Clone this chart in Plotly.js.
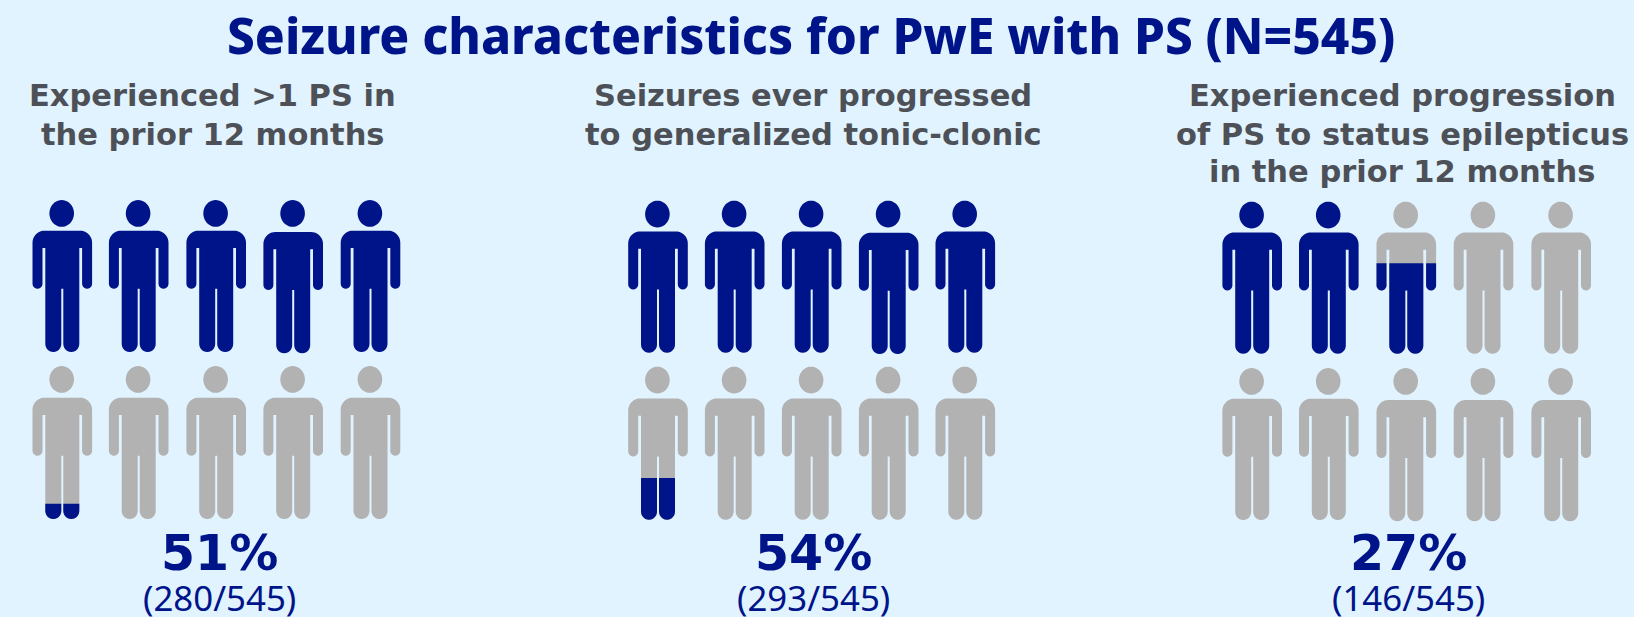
<!DOCTYPE html>
<html>
<head>
<meta charset="utf-8">
<script src="https://cdn.plot.ly/plotly-3.0.1.min.js"></script>
<style>html,body{margin:0;padding:0;background:#e0f3ff;overflow:hidden}</style>
</head>
<body>
<div id="chart" style="width:1634px;height:617px"></div>
<script>
// ---- data ----
const chartTitle = "Seizure characteristics for PwE with PS (N=545)";
const panelTitles = [
  ["Experienced >1 PS in", "the prior 12 months"],
  ["Seizures ever progressed", "to generalized tonic-clonic"],
  ["Experienced progression", "of PS to status epilepticus", "in the prior 12 months"]
];
const percentages = [51, 54, 27];
const counts = [280, 293, 146];
const totalN = 545;
// how many of the ten figures are coloured, as drawn (fraction = height of last figure)
const figuresFilled = [5.10, 5.275, 2.595];

// ---- layout and style ----
const BG = "#e0f3ff", BLUE = "#00148a", GRAY = "#b1b2b1", TITLE_GRAY = "#4d5157";
const NOTO = { family: "Noto Sans", asc: 1.069 }, DEJAVU = { family: "DejaVu Sans", asc: 0.928 };
const columnX = [
  [62.3, 138.7, 216.2, 293.2, 370.5],
  [658, 734.7, 811.7, 888.7, 965.3],
  [1252.2, 1328.8, 1406.3, 1483.5, 1561.2]
];
const rowHeadTop = [[200, 366], [200.7, 366.7], [201.7, 368]];
const bodyNudge = [
  [[0,0,0,1.3,0],[1,1,1,1,1]],
  [[0,0,0,1.3,0],[1,1,1,1,1]],
  [[0,0,0,0,0],[0,0,1.3,1.3,1.3]]
];
const titleCenter = [212.7, 813, 1402];
const titleBaselines = [[106.7, 145], [106.7, 145], [106.7, 145, 182.5]];
const statCenter = [219.5, 813.6, 1408];

// ---- figure outline, local units = px from body centre and head top ----
function arc(cx, cy, rx, ry, a0, a1, n) {
  const pts = [];
  for (let i = 0; i <= n; i++) {
    const a = (a0 + (a1 - a0) * i / n) * Math.PI / 180;
    pts.push([cx + rx * Math.cos(a), cy + ry * Math.sin(a)]);
  }
  return pts;
}
const TOP = 30.7, W = 29.8, ARM = 10, T = 17, GAPTOP = 48, ARMBOT = 88.7, LEGGAP = 1, BOT = 152;
const LEGR = (T - LEGGAP) / 2;
const rightHalf = [].concat(
  [[0, TOP]],
  arc(W - 12, TOP + 12, 12, 12, -90, 0, 10),
  arc(W - ARM / 2, ARMBOT - ARM / 2, ARM / 2, ARM / 2, 0, 180, 10),
  [[W - ARM, GAPTOP], [T, GAPTOP]],
  arc(T - LEGR, BOT - LEGR, LEGR, LEGR, 0, 180, 12),
  [[LEGGAP, ARMBOT], [0, ARMBOT]]
);
const bodyOutline = rightHalf.concat(rightHalf.slice(1, -1).reverse().map(p => [-p[0], p[1]]));
const headOutline = arc(-0.6, 13.4, 12.3, 13.4, 0, 360, 40);

function clipBelow(poly, yc) { // keeps the part of the polygon at or below y = yc on the page
  const out = [];
  for (let i = 0; i < poly.length; i++) {
    const a = poly[i], b = poly[(i + 1) % poly.length];
    const ain = a[1] >= yc, bin = b[1] >= yc;
    if (ain) out.push(a);
    if (ain !== bin) {
      const t = (yc - a[1]) / (b[1] - a[1]);
      out.push([a[0] + t * (b[0] - a[0]), yc]);
    }
  }
  return out;
}
function addPoly(tr, poly) {
  if (!poly.length) return;
  poly.forEach(p => { tr.x.push(p[0]); tr.y.push(p[1]); });
  tr.x.push(poly[0][0], null); tr.y.push(poly[0][1], null);
}
const place = (poly, cx, dy) => poly.map(p => [p[0] + cx, p[1] + dy]);

function polyTrace(color, name) {
  return { type: "scatter", mode: "lines", name, x: [], y: [], fill: "toself", fillcolor: color,
           line: { width: 0, color, simplify: false }, hoverinfo: "skip", showlegend: false, connectgaps: false };
}
const grayTrace = polyTrace(GRAY, "not affected");
const blueTrace = polyTrace(BLUE, "affected");

figuresFilled.forEach((filled, p) => {
  for (let r = 0; r < 2; r++) for (let c = 0; c < 5; c++) {
    const frac = Math.max(0, Math.min(1, filled - (r * 5 + c)));
    const top = rowHeadTop[p][r], cx = columnX[p][c], nudge = bodyNudge[p][r][c];
    const body = place(bodyOutline, cx, top + nudge), head = place(headOutline, cx, top);
    if (frac >= 1) { addPoly(blueTrace, head); addPoly(blueTrace, body); continue; }
    addPoly(grayTrace, head); addPoly(grayTrace, body);
    if (frac > 0) addPoly(blueTrace, clipBelow(body, top + nudge + BOT - frac * BOT));
  }
});

// ---- text ----
function label(x, baseline, text, size, weight, color, face) {
  return { x, y: baseline - face.asc * size, xref: "x", yref: "y", xanchor: "center", yanchor: "top",
           text, showarrow: false, borderpad: 0, borderwidth: 0,
           font: { family: face.family, size, color, weight } };
}
const annotations = [label(811, 54, chartTitle, 49.5, 800, BLUE, NOTO)];
panelTitles.forEach((lines, p) => lines.forEach((line, i) =>
  annotations.push(label(titleCenter[p], titleBaselines[p][i], line, 30.5, 700, TITLE_GRAY, DEJAVU))));
percentages.forEach((v, p) => {
  annotations.push(label(statCenter[p], 570.7, v + "%", 49, 700, BLUE, DEJAVU));
  annotations.push(label(statCenter[p], 610.7, "(" + counts[p] + "/" + totalN + ")", 34.8, 400, BLUE, NOTO));
});

Plotly.newPlot("chart", [grayTrace, blueTrace], {
  width: 1634, height: 617,
  margin: { l: 0, r: 0, t: 0, b: 0, pad: 0 },
  paper_bgcolor: BG, plot_bgcolor: BG,
  showlegend: false,
  xaxis: { range: [0, 1634], visible: false, fixedrange: true },
  yaxis: { range: [617, 0], visible: false, fixedrange: true },
  annotations
}, { staticPlot: true, displayModeBar: false });
</script>
</body>
</html>
